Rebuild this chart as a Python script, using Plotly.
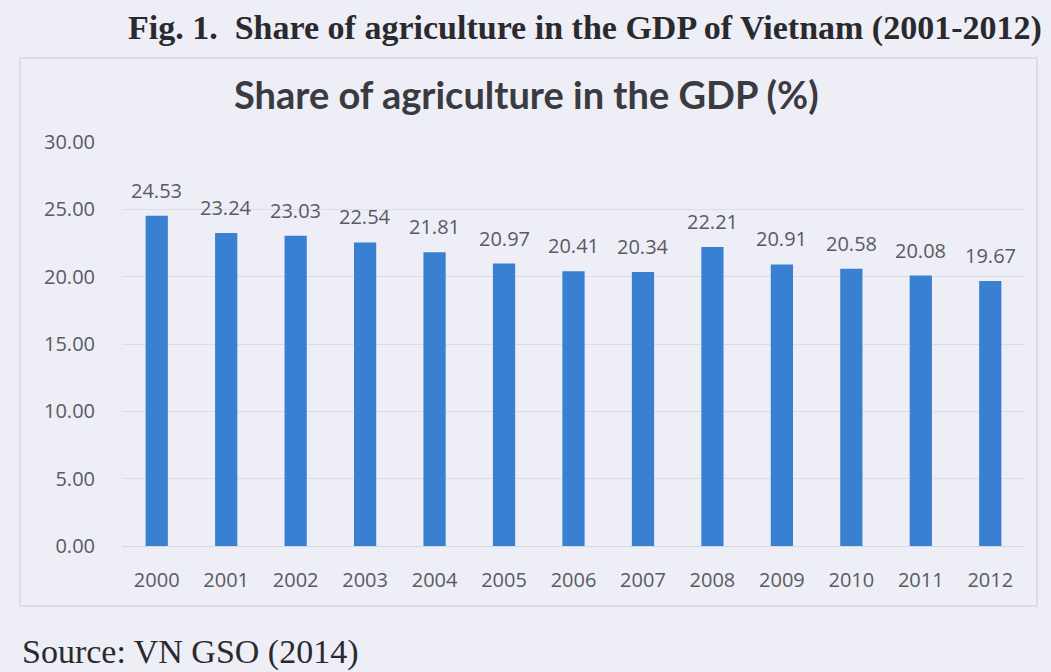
import plotly.graph_objects as go

# Share of agriculture in Vietnam's GDP, percent
years = ["2000", "2001", "2002", "2003", "2004", "2005", "2006",
         "2007", "2008", "2009", "2010", "2011", "2012"]
share = [24.53, 23.24, 23.03, 22.54, 21.81, 20.97, 20.41,
         20.34, 22.21, 20.91, 20.58, 20.08, 19.67]
y_ticks = [0, 5, 10, 15, 20, 25, 30]

W, H = 1051, 672
BG = "#eeeef6"
TXT = "#5a5a62"
SANS = "Open Sans, DejaVu Sans"

fig = go.Figure()
fig.add_trace(go.Bar(
    x=years, y=share,
    marker=dict(color="#3a80d2", line=dict(width=0)),
    width=0.32,
    hoverinfo="x+y",
))

# value labels above each bar (category index positions)
for i, v in enumerate(share):
    fig.add_annotation(
        x=i, y=v, text=f"{v:.2f}", showarrow=False,
        yanchor="bottom", yshift=10,
        font=dict(family=SANS, size=20, color=TXT),
    )

# chart frame
fig.add_shape(type="rect", xref="paper", yref="paper",
              x0=20 / W, x1=1037 / W, y0=1 - 606 / H, y1=1 - 58 / H,
              line=dict(color="#d8d8e2", width=1.5), fillcolor="rgba(0,0,0,0)",
              layer="below")

fig.add_annotation(
    xref="paper", yref="paper", x=585 / W, y=1 - 28 / H,
    text="<b>Fig. 1.  Share of agriculture in the GDP of Vietnam (2001-2012)</b>",
    showarrow=False, xanchor="center", yanchor="middle",
    font=dict(family="Liberation Serif, Times New Roman, serif", size=34, color="#2a2a2e"),
)
fig.add_annotation(
    xref="paper", yref="paper", x=526 / W, y=1 - 94 / H,
    text="<b>Share of agriculture in the GDP (%)</b>",
    showarrow=False, xanchor="center", yanchor="middle",
    font=dict(family="Lato, Open Sans, sans-serif", size=38, color="#3a3a40"),
)
fig.add_annotation(
    xref="paper", yref="paper", x=20 / W, y=1 - 652 / H,
    text="Source: VN GSO (2014)",
    showarrow=False, xanchor="left", yanchor="middle",
    font=dict(family="Liberation Serif, Times New Roman, serif", size=34, color="#2a2a2e"),
)

fig.update_layout(
    width=W, height=H,
    template="none",
    margin=dict(l=0, r=0, t=0, b=0, pad=0),
    paper_bgcolor=BG, plot_bgcolor=BG,
    showlegend=False,
    xaxis=dict(
        type="category",
        automargin=False,
        range=[-0.5, len(years) - 0.5],
        domain=[122 / W, 1025 / W],
        showgrid=False, showline=True, linecolor="#d6d6e0", linewidth=1,
        ticks="outside", ticklen=16, tickcolor="rgba(0,0,0,0)",
        tickfont=dict(family=SANS, size=20, color=TXT),
        fixedrange=True,
    ),
    yaxis=dict(
        automargin=False,
        domain=[1 - 546 / H, 1 - 142 / H],
        range=[0, 30],
        tickvals=y_ticks,
        ticktext=[f"{t:.2f}" for t in y_ticks],
        showgrid=True, gridcolor="#dcdce6", gridwidth=1,
        zeroline=False, showline=False,
        ticks="outside", ticklen=22, tickcolor="rgba(0,0,0,0)",
        tickfont=dict(family=SANS, size=20, color=TXT),
        fixedrange=True,
    ),
)

fig.write_html("out.html")
